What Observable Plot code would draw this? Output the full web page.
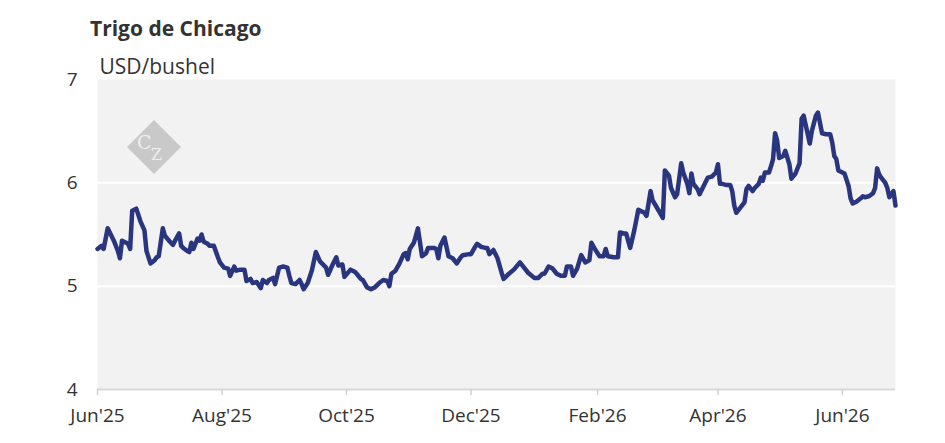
<!DOCTYPE html>
<html><head><meta charset="utf-8">
<script src="https://cdn.jsdelivr.net/npm/d3@7"></script>
<script src="https://cdn.jsdelivr.net/npm/@observablehq/plot@0.6"></script>
<style>
body{margin:0;background:#fff;font-family:"Open Sans",sans-serif;}
#wrap{position:relative;width:945px;height:443px;overflow:hidden;}
#title{box-sizing:border-box;height:45px;padding:14px 0 0 90px;font-size:21px;font-weight:700;color:#333;line-height:normal;white-space:nowrap;}
#logo{position:absolute;left:127px;top:120px;}
#chart svg{display:block;}
</style></head><body>
<div id="wrap">
<div id="title">Trigo de Chicago</div>
<div id="chart"></div>
<svg id="logo" width="54" height="54" viewBox="0 0 54 54">
<polygon points="27,0 54,27 27,54 0,27" fill="#c9c9c9"/>
<text x="10" y="29" font-family="DejaVu Serif, serif" font-size="19" fill="#eeeeee">C</text>
<text x="24" y="40" font-family="DejaVu Serif, serif" font-size="16" fill="#eeeeee">Z</text>
</svg>
</div>
<script>
const dates = [
"2025-06-01","2025-06-03","2025-06-04","2025-06-06","2025-06-09","2025-06-11","2025-06-12","2025-06-13","2025-06-16","2025-06-17",
"2025-06-18","2025-06-20","2025-06-22","2025-06-24","2025-06-25","2025-06-27","2025-06-29","2025-06-30","2025-07-01","2025-07-03",
"2025-07-04","2025-07-06","2025-07-08","2025-07-09","2025-07-11","2025-07-12","2025-07-13","2025-07-15","2025-07-16","2025-07-17",
"2025-07-18","2025-07-20","2025-07-21","2025-07-22","2025-07-23","2025-07-25","2025-07-26","2025-07-28","2025-07-30","2025-07-31",
"2025-08-02","2025-08-04","2025-08-05","2025-08-07","2025-08-08","2025-08-10","2025-08-12","2025-08-13","2025-08-15","2025-08-16",
"2025-08-18","2025-08-20","2025-08-21","2025-08-23","2025-08-24","2025-08-26","2025-08-27","2025-08-29","2025-08-31","2025-09-02",
"2025-09-03","2025-09-04","2025-09-06","2025-09-08","2025-09-09","2025-09-10","2025-09-12","2025-09-14","2025-09-16","2025-09-18",
"2025-09-21","2025-09-22","2025-09-24","2025-09-26","2025-09-27","2025-09-29","2025-09-30","2025-10-03","2025-10-05","2025-10-06",
"2025-10-08","2025-10-09","2025-10-11","2025-10-12","2025-10-13","2025-10-15","2025-10-17","2025-10-19","2025-10-21","2025-10-22",
"2025-10-23","2025-10-25","2025-10-27","2025-10-29","2025-10-30","2025-10-31","2025-11-01","2025-11-03","2025-11-05","2025-11-07",
"2025-11-09","2025-11-10","2025-11-13","2025-11-14","2025-11-15","2025-11-16","2025-11-18","2025-11-20","2025-11-22","2025-11-24",
"2025-11-26","2025-11-27","2025-11-30","2025-12-01","2025-12-03","2025-12-04","2025-12-06","2025-12-08","2025-12-09","2025-12-10",
"2025-12-12","2025-12-14","2025-12-16","2025-12-17","2025-12-19","2025-12-22","2025-12-25","2025-12-27","2025-12-29","2026-01-01",
"2026-01-03","2026-01-05","2026-01-06","2026-01-08","2026-01-10","2026-01-12","2026-01-14","2026-01-16","2026-01-17","2026-01-19",
"2026-01-20","2026-01-22","2026-01-24","2026-01-26","2026-01-28","2026-01-29","2026-01-31","2026-02-02","2026-02-04","2026-02-05",
"2026-02-06","2026-02-09","2026-02-11","2026-02-12","2026-02-14","2026-02-15","2026-02-17","2026-02-19","2026-02-21","2026-02-22",
"2026-02-24","2026-02-25","2026-02-27","2026-02-28","2026-03-03","2026-03-05","2026-03-06","2026-03-08","2026-03-09","2026-03-11",
"2026-03-12","2026-03-14","2026-03-15","2026-03-17","2026-03-18","2026-03-19","2026-03-20","2026-03-22","2026-03-23","2026-03-25",
"2026-03-27","2026-03-29","2026-03-31","2026-04-01","2026-04-02","2026-04-03","2026-04-05","2026-04-07","2026-04-08","2026-04-09",
"2026-04-10","2026-04-12","2026-04-14","2026-04-15","2026-04-16","2026-04-18","2026-04-19","2026-04-21","2026-04-22","2026-04-23",
"2026-04-24","2026-04-26","2026-04-27","2026-04-28","2026-04-29","2026-04-30","2026-05-01","2026-05-03","2026-05-04","2026-05-06",
"2026-05-07","2026-05-09","2026-05-11","2026-05-12","2026-05-13","2026-05-15","2026-05-16","2026-05-17","2026-05-19","2026-05-20",
"2026-05-21","2026-05-22","2026-05-24","2026-05-26","2026-05-27","2026-05-28","2026-05-29","2026-05-30","2026-06-01","2026-06-02",
"2026-06-04","2026-06-05","2026-06-06","2026-06-08","2026-06-10","2026-06-11","2026-06-12","2026-06-14","2026-06-16","2026-06-17",
"2026-06-18","2026-06-19","2026-06-20","2026-06-22","2026-06-23","2026-06-24","2026-06-25","2026-06-26","2026-06-27"
];
const prices = [
5.36,5.39,5.36,5.56,5.44,5.34,5.27,5.44,5.41,5.36,
5.73,5.75,5.63,5.54,5.34,5.22,5.25,5.28,5.29,5.56,
5.49,5.44,5.40,5.44,5.51,5.39,5.37,5.34,5.33,5.42,
5.36,5.46,5.44,5.50,5.43,5.41,5.39,5.39,5.28,5.23,
5.18,5.17,5.10,5.19,5.15,5.16,5.16,5.05,5.07,5.03,
5.04,4.98,5.06,5.03,5.06,5.08,5.02,5.18,5.19,5.18,
5.10,5.03,5.02,5.06,5.02,4.97,5.03,5.15,5.33,5.24,
5.18,5.11,5.20,5.28,5.20,5.21,5.09,5.16,5.14,5.12,
5.07,5.06,4.99,4.98,4.97,4.99,5.03,5.06,5.05,5.00,
5.12,5.15,5.22,5.31,5.32,5.26,5.36,5.42,5.56,5.29,
5.32,5.37,5.37,5.36,5.27,5.39,5.47,5.29,5.27,5.22,
5.28,5.30,5.31,5.31,5.38,5.41,5.38,5.37,5.37,5.31,
5.35,5.27,5.13,5.07,5.11,5.16,5.23,5.18,5.13,5.08,
5.08,5.12,5.12,5.19,5.17,5.12,5.10,5.10,5.19,5.19,
5.10,5.17,5.30,5.23,5.25,5.42,5.35,5.29,5.29,5.36,
5.29,5.28,5.28,5.52,5.51,5.51,5.37,5.54,5.74,5.73,
5.71,5.68,5.92,5.83,5.73,5.66,6.12,6.07,5.95,5.86,
5.89,6.19,6.10,5.99,5.90,6.09,5.99,5.94,5.89,5.97,
6.05,6.06,6.10,6.18,5.99,5.99,5.98,5.98,5.92,5.78,
5.71,5.76,5.81,5.94,5.97,5.92,5.95,5.99,6.05,6.02,
6.10,6.10,6.16,6.23,6.48,6.41,6.24,6.26,6.31,6.18,
6.04,6.09,6.19,6.62,6.65,6.47,6.38,6.50,6.65,6.68,
6.58,6.48,6.47,6.47,6.39,6.26,6.23,6.12,6.10,6.09,
5.97,5.85,5.80,5.82,5.85,5.87,5.86,5.87,5.90,5.95,
6.14,6.08,6.05,6.00,5.95,5.86,5.89,5.92,5.78
];
const xTicks = ["2025-06-01","2025-08-01","2025-10-01","2025-12-01","2026-02-01","2026-04-01","2026-06-01"];
const yTicks = [4,5,6,7];
const gridValues = [5,6];
const subtitle = ["USD/bushel"];

const data = dates.map((d,i)=>({date:new Date(d), value:prices[i]}));
const xTickDates = xTicks.map(d=>new Date(d));
const fmt = d3.utcFormat("%b'%y");

const chart = Plot.plot({
  width:945, height:398,
  marginTop:34, marginBottom:54, marginLeft:97, marginRight:50,
  style:{fontFamily:"'Open Sans', sans-serif", fontSize:"19px", color:"#333", background:"transparent", overflow:"visible"},
  x:{type:"utc", domain:[data[0].date, data[data.length-1].date], label:null},
  y:{domain:[4,7], label:null},
  marks:[
    Plot.frame({fill:"#f2f2f2", stroke:"none"}),
    Plot.gridY(gridValues, {stroke:"#ffffff", strokeOpacity:1, strokeWidth:2}),
    Plot.ruleY([4], {stroke:"#d9d9d9", strokeWidth:2}),
    Plot.axisX({ticks:xTickDates, tickFormat:fmt, tickSize:6, tickPadding:13, stroke:"#d0d0d0", strokeWidth:1.5, fill:"#333", label:null}),
    Plot.axisY({ticks:yTicks, tickFormat:d=>String(d), tickSize:0, tickPadding:20, fill:"#333", label:null}),
    Plot.line(data, {x:"date", y:"value", stroke:"#29367f", strokeWidth:4.5, strokeLinejoin:"round", strokeLinecap:"round"}),
    Plot.text(subtitle, {text:d=>d, frameAnchor:"top-left", textAnchor:"start", lineAnchor:"bottom", dx:2, dy:-6, fontSize:21, fill:"#333"})
  ]
});
document.getElementById("chart").appendChild(chart);
</script>
</body></html>
